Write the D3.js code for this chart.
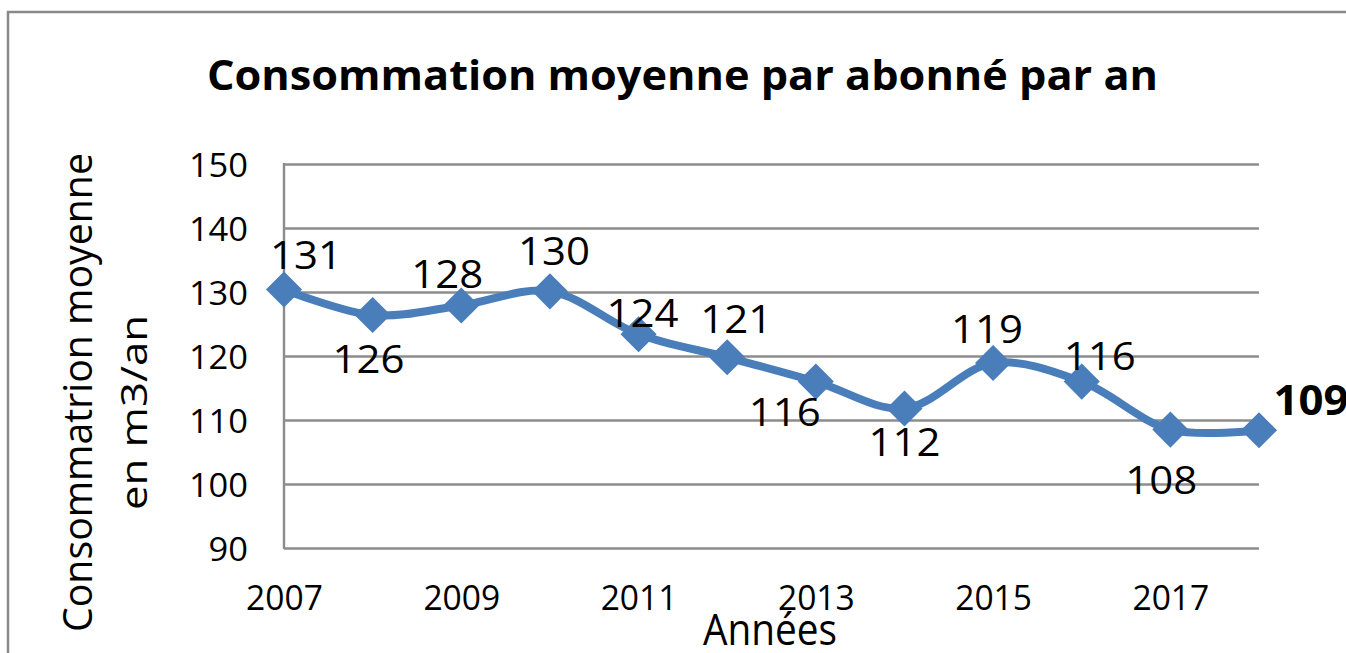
<!DOCTYPE html>
<html>
<head>
<meta charset="utf-8">
<script src="https://cdn.jsdelivr.net/npm/d3@7"></script>
<style>
  html, body { margin: 0; padding: 0; background: #ffffff; }
  svg { display: block; }
  text { font-family: "Open Sans", "Noto Sans", sans-serif; fill: #000; }
</style>
</head>
<body>
<svg id="chart" width="1346" height="653"></svg>
<script>
// ---- data ----
const years = [2007, 2008, 2009, 2010, 2011, 2012, 2013, 2014, 2015, 2016, 2017, 2018];
const values = [130.4, 126.4, 127.9, 130.1, 123.4, 119.8, 116.0, 111.8, 118.9, 116.0, 108.5, 108.4];
const valueLabels = ["131", "126", "128", "130", "124", "121", "116", "112", "119", "116", "108", "109"];
const yTicks = [90, 100, 110, 120, 130, 140, 150];
const xTickYears = [2007, 2009, 2011, 2013, 2015, 2017];
const titleText = "Consommation moyenne par abonné par an";
const yTitleLines = ["Consommatrion moyenne", "en m3/an"];
const xTitleText = "Années";

// ---- layout (label placement relative to each marker: [dx of centre, dy of baseline]) ----
const labelOffsets = [[22, -20], [-4, 58], [-14, -17], [4, -26], [4, -7], [9, -24],
                      [-31, 44], [0, 48], [-6, -20], [18, -12], [-9, 64], [52, -15]];

const svg = d3.select("#chart");
const plot = { left: 284, right: 1259, top: 164, bottom: 548 };
const gridColor = "#8c8c8c";
const seriesColor = "#4a7ebb";

// outer border
svg.append("rect")
  .attr("x", 8).attr("y", 12)
  .attr("width", 1360).attr("height", 700)
  .attr("fill", "none").attr("stroke", "#898989").attr("stroke-width", 2.5);

const x = d3.scaleLinear().domain([2007, 2018]).range([plot.left, plot.right]);
const y = d3.scaleLinear().domain([90, 150]).range([plot.bottom, plot.top]);

// title
svg.append("text")
  .attr("x", 682.5).attr("y", 90)
  .attr("text-anchor", "middle")
  .attr("font-size", 42).attr("font-weight", 700)
  .attr("textLength", 951).attr("lengthAdjust", "spacingAndGlyphs")
  .text(titleText);

// y axis with gridlines
const yAxis = d3.axisLeft(y)
  .tickValues(yTicks)
  .tickSize(-(plot.right - plot.left))
  .tickPadding(36)
  .tickFormat(d3.format("d"));
const gy = svg.append("g").attr("transform", `translate(${plot.left},0)`).call(yAxis);
gy.select(".domain").remove();
gy.selectAll(".tick line").attr("stroke", gridColor).attr("stroke-width", 2.4);
gy.selectAll(".tick text")
  .attr("font-size", 32)
  .attr("font-family", "'Open Sans', sans-serif")
  .attr("fill", "#000")
  .attr("dy", 12.5)
  .each(function(d) {
    const s = String(d);
    d3.select(this).attr("textLength", s.length * 19.7).attr("lengthAdjust", "spacingAndGlyphs");
  });

// vertical axis line
svg.append("line")
  .attr("x1", plot.left).attr("x2", plot.left)
  .attr("y1", plot.top - 1).attr("y2", plot.bottom + 1)
  .attr("stroke", gridColor).attr("stroke-width", 2.4);

// x axis labels
const xAxis = d3.axisBottom(x)
  .tickValues(xTickYears)
  .tickSize(0)
  .tickFormat(d3.format("d"));
const gx = svg.append("g").attr("transform", `translate(0,${plot.bottom})`).call(xAxis);
gx.select(".domain").remove();
gx.selectAll(".tick text")
  .attr("font-size", 34)
  .attr("font-family", "'Open Sans', sans-serif")
  .attr("fill", "#000")
  .attr("y", 62).attr("dy", 0)
  .each(function(d) {
    const s = String(d);
    d3.select(this).attr("textLength", s.length * 19.2).attr("lengthAdjust", "spacingAndGlyphs");
  });

// axis titles
svg.append("text")
  .attr("x", 770).attr("y", 645)
  .attr("text-anchor", "middle")
  .attr("font-size", 44)
  .attr("textLength", 134).attr("lengthAdjust", "spacingAndGlyphs")
  .text(xTitleText);

const yTitlePos = [[92, 392.5, 479, 40], [147, 412.5, 195, 37]];
yTitleLines.forEach((t, i) => {
  const [tx, ty, len, fs] = yTitlePos[i];
  svg.append("text")
    .attr("transform", `translate(${tx},${ty}) rotate(-90)`)
    .attr("text-anchor", "middle")
    .attr("font-size", fs)
    .attr("textLength", len).attr("lengthAdjust", "spacingAndGlyphs")
    .text(t);
});

// series line
const pts = years.map((yr, i) => ({ year: yr, value: values[i], label: valueLabels[i], off: labelOffsets[i], last: i === years.length - 1 }));
const line = d3.line()
  .x(d => x(d.year))
  .y(d => y(d.value))
  .curve(d3.curveCatmullRom.alpha(0.5));
svg.append("path")
  .datum(pts)
  .attr("d", line)
  .attr("fill", "none")
  .attr("stroke", seriesColor)
  .attr("stroke-width", 8)
  .attr("stroke-linejoin", "round");

// markers (diamonds)
const r = 17;
svg.selectAll(".marker")
  .data(pts)
  .join("path")
  .attr("class", "marker")
  .attr("transform", d => `translate(${x(d.year)},${y(d.value)})`)
  .attr("d", `M0,${-r}L${r},0L0,${r}L${-r},0Z`)
  .attr("fill", seriesColor)
  .attr("stroke", seriesColor)
  .attr("stroke-width", 1.5)
  .attr("stroke-linejoin", "miter");

// data labels
svg.selectAll(".dlabel")
  .data(pts)
  .join("text")
  .attr("class", "dlabel")
  .attr("x", d => x(d.year) + d.off[0])
  .attr("y", d => y(d.value) + d.off[1])
  .attr("text-anchor", "middle")
  .attr("font-size", d => d.last ? 42 : 39)
  .attr("font-weight", d => d.last ? 700 : 400)
  .attr("textLength", d => d.label.length * (d.last ? 25 : 24))
  .attr("lengthAdjust", "spacingAndGlyphs")
  .text(d => d.label);
</script>
</body>
</html>
